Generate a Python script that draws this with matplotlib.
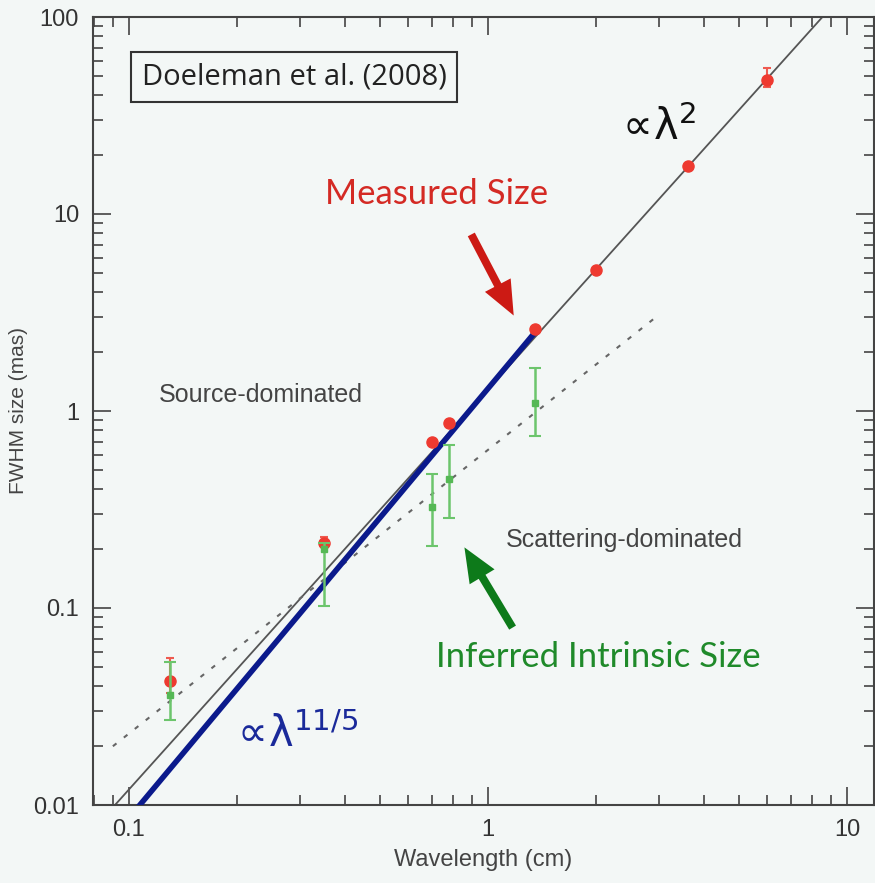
import numpy as np
import matplotlib.pyplot as plt

# measured sizes (red)
wl_meas = [0.13, 0.35, 0.70, 0.78, 1.35, 2.0, 3.6, 6.0]
size_meas = [0.0425, 0.214, 0.70, 0.87, 2.6, 5.2, 17.5, 48.0]
meas_lo = [0.037, 0.205, 0.70, 0.87, 2.6, 5.2, 17.5, 44.0]
meas_hi = [0.056, 0.228, 0.70, 0.87, 2.6, 5.2, 17.5, 55.0]

# inferred intrinsic sizes (green)
wl_intr = [0.13, 0.35, 0.70, 0.78, 1.35]
size_intr = [0.036, 0.20, 0.326, 0.45, 1.10]
intr_lo = [0.027, 0.102, 0.207, 0.285, 0.75]
intr_hi = [0.053, 0.215, 0.48, 0.67, 1.65]

# power-law lines: (amplitude, exponent, lambda range)
scat_law = (1.285, 2.03, 0.07, 13.0)      # gray solid, ~lambda^2
intr_law = (1.30, 2.18, 0.1, 1.37)        # blue, lambda^(11/5)
dash_law = (0.635, 1.44, 0.0902, 2.96)    # gray dotted

W, H = 875, 883
bg = '#f3f7f6'

fig = plt.figure(figsize=(W / 100, H / 100), dpi=100, facecolor=bg)
ax = fig.add_axes([93 / W, (H - 805) / H, (874 - 93) / W, (805 - 17) / H])
ax.set_facecolor(bg)

def px(x, y):
    return (x / W, 1 - y / H)

def law(p):
    a, k, x0, x1 = p
    x = np.logspace(np.log10(x0), np.log10(x1), 200)
    return x, a * x ** k

x, y = law(scat_law)
ax.plot(x, y, color='#555555', lw=1.3, zorder=2)
x, y = law(dash_law)
ax.plot(x, y, color='#666666', lw=1.5, ls=(0, (2.2, 4.5)), zorder=2)
x, y = law(intr_law)
ax.plot(x, y, color='#0b1a8c', lw=4, zorder=3, solid_capstyle='butt')

sm = np.array(size_meas)
ax.errorbar(wl_meas, sm, yerr=[sm - np.array(meas_lo), np.array(meas_hi) - sm],
            fmt='o', ms=8, color='#ee3a30', ecolor='#ee5a50', elinewidth=1.5,
            capsize=3, capthick=1.5, zorder=4)
si = np.array(size_intr)
ax.errorbar(wl_intr, si, yerr=[si - np.array(intr_lo), np.array(intr_hi) - si],
            fmt='s', ms=5, color='#55b855', ecolor='#6cc56c', elinewidth=1.8,
            capsize=4, capthick=1.5, zorder=5)

ax.set_xscale('log')
ax.set_yscale('log')
ax.set_xlim(0.0794, 11.89)
ax.set_ylim(0.01, 100)
ax.set_xticks([0.1, 1, 10])
ax.set_xticklabels(['0.1', '1', '10'])
ax.set_yticks([0.01, 0.1, 1, 10, 100])
ax.set_yticklabels(['0.01', '0.1', '1', '10', '100'])

for s in ax.spines.values():
    s.set_color('#444444')
    s.set_linewidth(1.5)
ax.tick_params(which='both', direction='in', top=True, right=True,
               colors='#444444', width=1.2, labelsize=17, labelcolor='#333333')
ax.tick_params(which='major', length=13, pad=10)
ax.tick_params(which='minor', length=7)
for t in ax.get_xticklabels() + ax.get_yticklabels():
    t.set_family('Liberation Sans')

lab = dict(family='Liberation Sans', color='#444444')
ax.set_xlabel('Wavelength (cm)', fontsize=17, labelpad=6, **lab)
ax.set_ylabel('FWHM size (mas)', fontsize=15, labelpad=4, **lab)

ax.text(*px(294, 77), 'Doeleman et al. (2008)', transform=fig.transFigure,
        ha='center', va='center', fontsize=21, family='Open Sans', color='#222222',
        bbox=dict(boxstyle='square,pad=0.35', fc=bg, ec='#333333', lw=1.5))

ax.text(*px(261, 395), 'Source-dominated', transform=fig.transFigure,
        ha='center', va='center', fontsize=18, **lab)
ax.text(*px(624, 540), 'Scattering-dominated', transform=fig.transFigure,
        ha='center', va='center', fontsize=18, **lab)

ax.text(*px(437, 194), 'Measured Size', transform=fig.transFigure,
        ha='center', va='center', fontsize=25, family='Lato', color='#d42a24')
ax.text(*px(598, 657), 'Inferred Intrinsic Size', transform=fig.transFigure,
        ha='center', va='center', fontsize=25, family='Lato', color='#1f8a2a')

ax.text(*px(655, 128), r'$\propto\!\mathrm{\lambda}^2$', transform=fig.transFigure,
        ha='center', va='center', fontsize=30, color='#111111')
ax.text(*px(294, 735), r'$\propto\!\mathrm{\lambda}^{11/5}$', transform=fig.transFigure,
        ha='center', va='center', fontsize=30, color='#1a2a9a')

arrow = 'simple,head_width=1.1,head_length=1.3,tail_width=0.3'
ax.annotate('', xy=px(515, 318), xytext=px(470, 232), xycoords='figure fraction',
            textcoords='figure fraction',
            arrowprops=dict(arrowstyle=arrow, color='#cc1a14', mutation_scale=19, lw=0))
ax.annotate('', xy=px(463, 545), xytext=px(514, 630), xycoords='figure fraction',
            textcoords='figure fraction',
            arrowprops=dict(arrowstyle=arrow, color='#0d7a1a', mutation_scale=19, lw=0))

plt.savefig('out.png', dpi=100, facecolor=bg)
